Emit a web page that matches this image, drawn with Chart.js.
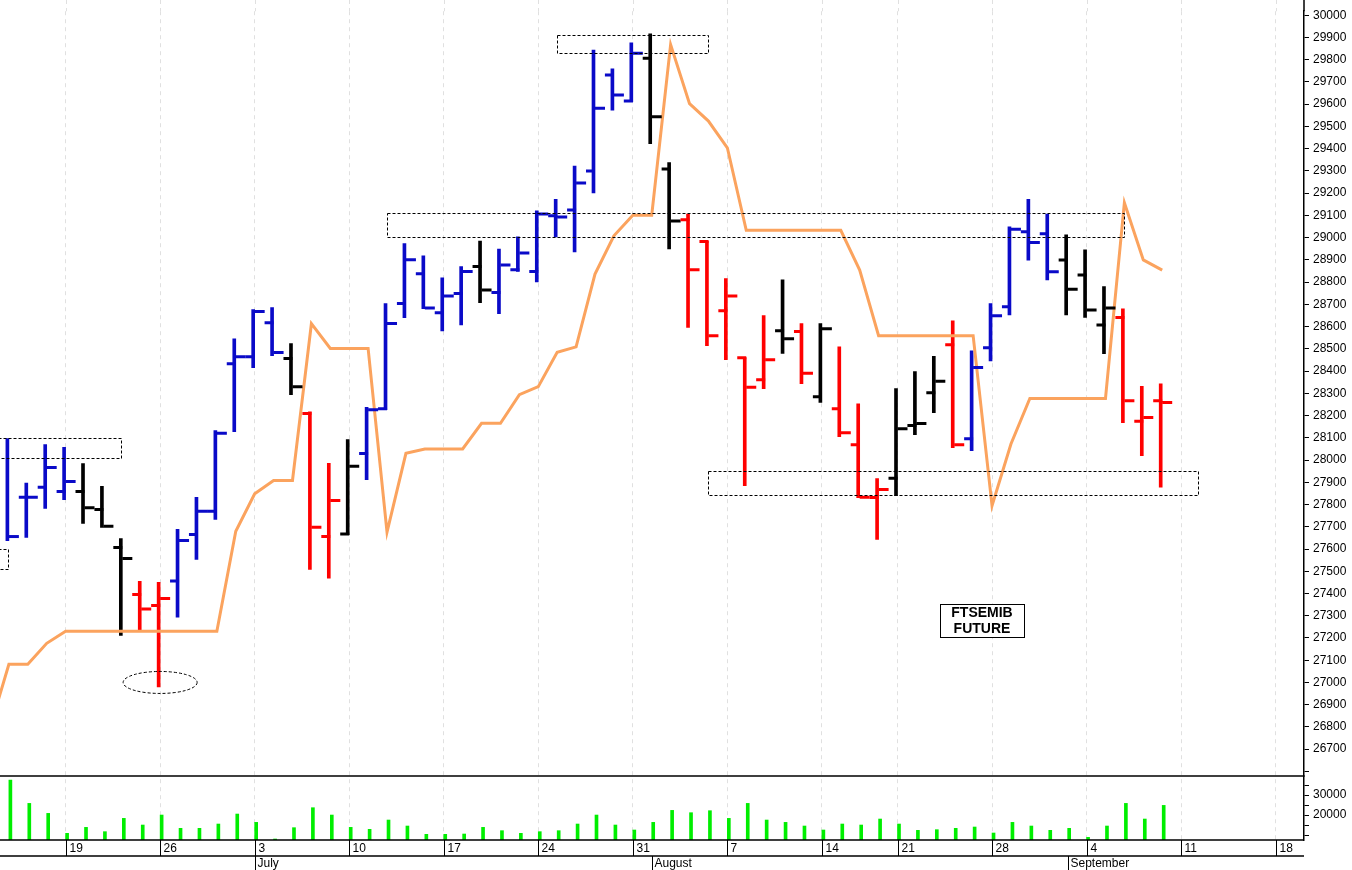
<!DOCTYPE html>
<html lang="en">
<head>
<meta charset="UTF-8">
<title>FTSEMIB Future</title>
<script src="https://cdn.jsdelivr.net/npm/chart.js"></script>
<style>
  body { margin: 0; background: #fff; }
  #wrap { width: 1352px; height: 870px; }
</style>
</head>
<body>
<div id="wrap"><canvas id="c" width="1352" height="870"></canvas></div>
<script>
// trading days, 14 Jun .. 8 Sep (15 Aug closed)
const days = ['06-14','06-15','06-16','06-19','06-20','06-21','06-22','06-23','06-26','06-27','06-28','06-29','06-30',
  '07-03','07-04','07-05','07-06','07-07','07-10','07-11','07-12','07-13','07-14','07-17','07-18','07-19','07-20','07-21',
  '07-24','07-25','07-26','07-27','07-28','07-31','08-01','08-02','08-03','08-04','08-07','08-08','08-09','08-10','08-11',
  '08-14','08-16','08-17','08-18','08-21','08-22','08-23','08-24','08-25','08-28','08-29','08-30','08-31','09-01',
  '09-04','09-05','09-06','09-07','09-08'];

const opens  = [null,27833,27878,27858,27858,27778,27607,27396,27346,27456,27665,27770,28433,28464,28617,28457,28209,27656,27668,28029,
  28231,28704,28838,28662,28749,28870,28753,28855,28848,29098,29124,29300,29731,29614,29807,29308,29080,28982,28671,28460,
  28361,28581,28578,28285,28231,28069,27832,27918,28155,28303,28518,28096,28505,28689,29026,29017,28899,28832,28607,28641,
  28174,28267];
const highs  = [28096,27896,28069,28057,27984,27882,27647,27455,27450,27688,27832,28132,28545,28676,28685,28524,28217,27985,28092,28237,
  28704,28973,28918,28819,28870,28985,28949,29003,29120,29172,29322,29843,29759,29876,29916,29337,29106,28985,28816,28461,
  28649,28810,28613,28614,28509,28253,27917,28321,28398,28466,28626,28491,28704,29048,29172,29106,29012,28945,28780,28680,
  28331,28343];
const lows   = [27638,27652,27782,27822,27715,27697,27212,27234,26980,27294,27553,27733,28128,28415,28469,28294,27508,27469,27665,27912,
  28226,28640,28680,28581,28608,28707,28658,28848,28801,29003,28936,29201,29573,29611,29422,28949,28596,28514,28451,27885,
  28321,28479,28343,28259,28105,27831,27643,27840,28114,28213,28056,28042,28446,28653,28899,28810,28653,28641,28478,28168,
  28020,27878];
const closes = [27656,27833,27966,27903,27786,27702,27557,27330,27378,27638,27770,28120,28464,28668,28484,28330,27698,27818,27972,28226,
  28614,28900,28684,28738,28848,28765,28877,28931,29106,29093,29246,29582,29641,29829,29543,29075,28855,28559,28738,28327,
  28451,28545,28390,28590,28123,27833,27867,28141,28164,28354,28069,28416,28649,29038,28978,28847,28768,28675,28684,28267,
  28191,28259];
const barColors = ['b','b','b','b','k','k','k','r','r','b','b','b','b','b','b','k','r','r','k','b',
  'b','b','b','b','b','k','b','b','b','b','b','b','b','b','k','k','r','r','r','r',
  'r','k','r','k','r','r','r','k','k','k','r','b','b','b','b','b','k','k','k','r',
  'r','r'];
// orange line, first value belongs to the day before the window
const signalPrev = 26794;
const signal = [27082,27082,27176,27230,27230,27230,27230,27230,27230,27230,27230,27230,27680,27848,27908,27908,28613,28502,28502,28502,
  27676,28030,28050,28050,28050,28165,28165,28294,28330,28484,28509,28836,29008,29101,29101,29868,29602,29524,29404,29033,
  29033,29033,29033,29033,29033,28854,28559,28559,28559,28559,28559,28559,27795,28072,28277,28277,28277,28277,28277,29157,
  28900,28854];
const volume = [37500,25830,20830,10830,13830,11670,18330,15000,20000,13330,13330,15500,20500,16330,8000,13670,23670,20000,13830,12830,
  17500,14500,10330,10330,10500,13830,12170,10830,11670,12170,15500,20000,15000,12500,16330,22330,21170,22170,18330,25830,
  17500,16330,14500,12500,15500,15000,18000,15500,12330,12670,13330,14000,11000,16330,14500,12330,13330,8830,14500,25830,
  18000,24830];

// axis labels (index on the trading-day scale)
const weekIdx = [3,8,13,18,23,28,33,38,43,47,52,57,62,67];
const weekLabels = ['19','26','3','10','17','24','31','7','14','21','28','4','11','18'];
const monthIdx = [13,34,56];
const monthLabels = ['July','August','September'];

const colorMap = { b: '#0a0ac8', r: '#ff0000', k: '#000000' };
const ink = barColors.map(c => colorMap[c]);

const lineData = [{ x: -1, y: signalPrev }].concat(signal.map((v, i) => ({ x: i, y: v })));

function dashedRect(ctx, xs, ys, x1, x2, p1, p2) {
  const a = xs.getPixelForValue(x1), b = xs.getPixelForValue(x2);
  const t = ys.getPixelForValue(p1), u = ys.getPixelForValue(p2);
  ctx.strokeRect(Math.round(a) + 0.5, Math.round(t) + 0.5, Math.round(b - a), Math.round(u - t));
}

const overlay = {
  id: 'overlay',
  beforeDatasetsDraw(chart) {
    // extend the week grid lines up to the top edge
    const ctx = chart.ctx, xs = chart.scales.x, ca = chart.chartArea;
    ctx.save();
    ctx.strokeStyle = '#e0e0e0';
    ctx.setLineDash([4, 4]);
    ctx.lineWidth = 1;
    weekIdx.forEach(v => {
      const x = Math.round(xs.getPixelForValue(v)) + 0.5;
      ctx.beginPath(); ctx.moveTo(x, 0); ctx.lineTo(x, ca.top); ctx.stroke();
    });
    ctx.restore();
  },
  afterDatasetsDraw(chart) {
    const ctx = chart.ctx, xs = chart.scales.x, ys = chart.scales.y;
    // open / close ticks
    ctx.save();
    ctx.lineWidth = 3;
    days.forEach((d, i) => {
      const x = xs.getPixelForValue(i);
      ctx.strokeStyle = ink[i];
      ctx.beginPath();
      if (opens[i] !== null) {
        const yo = ys.getPixelForValue(opens[i]);
        ctx.moveTo(x - 9, yo); ctx.lineTo(x, yo);
      }
      const yc = ys.getPixelForValue(closes[i]);
      ctx.moveTo(x, yc); ctx.lineTo(x + 10, yc);
      ctx.stroke();
    });
    ctx.restore();
  },
  afterDraw(chart) {
    const ctx = chart.ctx, xs = chart.scales.x, ys = chart.scales.y, ca = chart.chartArea;
    const vTop = chart.scales.vol.top;
    ctx.save();
    // axis line up to the top edge
    ctx.strokeStyle = '#000';
    ctx.lineWidth = 1.5;
    ctx.beginPath(); ctx.moveTo(ca.right, 0); ctx.lineTo(ca.right, ca.top); ctx.stroke();
    // dashed annotations
    ctx.lineWidth = 1;
    ctx.setLineDash([3, 2]);
    dashedRect(ctx, xs, ys, -0.6, 5.9, 28100, 28010);
    dashedRect(ctx, xs, ys, -0.6, -0.05, 27600, 27510);
    dashedRect(ctx, xs, ys, 29.0, 37.0, 29910, 29830);
    dashedRect(ctx, xs, ys, 20.0, 59.0, 29110, 29000);
    dashedRect(ctx, xs, ys, 37.0, 62.9, 27950, 27840);
    ctx.beginPath();
    ctx.ellipse(xs.getPixelForValue(8), ys.getPixelForValue(27000), 37, 11, 0, 0, Math.PI * 2);
    ctx.stroke();
    ctx.setLineDash([]);

    // title box
    ctx.fillStyle = '#fff';
    ctx.fillRect(940.5, 604.5, 84, 33);
    ctx.strokeRect(940.5, 604.5, 84, 33);
    ctx.fillStyle = '#000';
    ctx.font = 'bold 14px "Liberation Sans", Arial, sans-serif';
    ctx.textAlign = 'center';
    ctx.textBaseline = 'middle';
    ctx.fillText('FTSEMIB', 982, 613);
    ctx.fillText('FUTURE', 982, 629);

    // panel borders
    ctx.lineWidth = 1.5;
    ctx.beginPath();
    ctx.moveTo(0, vTop); ctx.lineTo(ca.right, vTop);
    ctx.moveTo(0, ca.bottom); ctx.lineTo(ca.right, ca.bottom);
    ctx.moveTo(0, ca.bottom + 16); ctx.lineTo(ca.right, ca.bottom + 16);
    ctx.stroke();

    // date strip
    ctx.lineWidth = 1;
    ctx.font = '12px "Liberation Sans", Arial, sans-serif';
    ctx.textAlign = 'left';
    ctx.textBaseline = 'top';
    weekIdx.forEach((v, k) => {
      const x = Math.round(xs.getPixelForValue(v)) + 0.5;
      ctx.beginPath(); ctx.moveTo(x, ca.bottom); ctx.lineTo(x, ca.bottom + 16); ctx.stroke();
      ctx.fillText(weekLabels[k], x + 3, ca.bottom + 3);
    });
    monthIdx.forEach((v, k) => {
      const x = Math.round(xs.getPixelForValue(v)) + 0.5;
      ctx.beginPath(); ctx.moveTo(x, ca.bottom + 16); ctx.lineTo(x, ca.bottom + 30); ctx.stroke();
      ctx.fillText(monthLabels[k], x + 2, ca.bottom + 18);
    });
    ctx.restore();
  }
};

const fitRight = s => { s.width = 48; };

new Chart(document.getElementById('c'), {
  data: {
    datasets: [
      {
        type: 'bar', label: 'range', yAxisID: 'y',
        data: days.map((d, i) => ({ x: i, y: [lows[i], highs[i]] })),
        backgroundColor: ink, barThickness: 3, order: 2
      },
      {
        type: 'line', label: 'signal', yAxisID: 'y',
        data: lineData, borderColor: '#fba35e', borderWidth: 3,
        pointRadius: 0, tension: 0, order: 1
      },
      {
        type: 'bar', label: 'volume', yAxisID: 'vol',
        data: volume.map((v, i) => ({ x: i, y: v })),
        backgroundColor: '#00ee00', barThickness: 3, order: 3
      }
    ]
  },
  options: {
    responsive: false,
    animation: false,
    layout: { padding: { top: 0, left: 0, right: 0, bottom: 30 } },
    plugins: { legend: { display: false }, tooltip: { enabled: false } },
    scales: {
      x: {
        type: 'linear', min: -0.47, max: 68.5, offset: false,
        afterBuildTicks: s => { s.ticks = weekIdx.map(v => ({ value: v })); },
        ticks: { display: false, padding: 0 },
        grid: { color: '#e0e0e0', drawTicks: false, offset: false, lineWidth: 1 },
        border: { display: false, dash: [4, 4] },
      },
      y: {
        type: 'linear', position: 'right', stack: 'p', stackWeight: 766,
        min: 26579, max: 30018,
        afterBuildTicks: s => {
          const t = [];
          for (let v = 26600; v <= 30000; v += 100) t.push({ value: v });
          s.ticks = t;
        },
        afterFit: fitRight,
        ticks: {
          color: '#000', padding: 4, autoSkip: false,
          font: { family: '"Liberation Sans", Arial, sans-serif', size: 12 },
          callback: v => (v >= 26700 ? String(v) : '')
        },
        grid: { drawOnChartArea: false, tickLength: 5, color: '#000' },
        border: { display: true, color: '#000', width: 1.5 }
      },
      vol: {
        type: 'linear', position: 'right', stack: 'p', stackWeight: 64,
        min: 7500, max: 39500,
        afterBuildTicks: s => {
          s.ticks = [10000, 15000, 20000, 25000, 30000, 35000].map(v => ({ value: v }));
        },
        afterFit: fitRight,
        ticks: {
          color: '#000', padding: 4, autoSkip: false,
          font: { family: '"Liberation Sans", Arial, sans-serif', size: 12 },
          callback: v => (v === 20000 || v === 30000 ? String(v) : '')
        },
        grid: { drawOnChartArea: false, tickLength: 5, color: '#000' },
        border: { display: true, color: '#000', width: 1.5 }
      }
    }
  },
  plugins: [overlay]
});
</script>
</body>
</html>
